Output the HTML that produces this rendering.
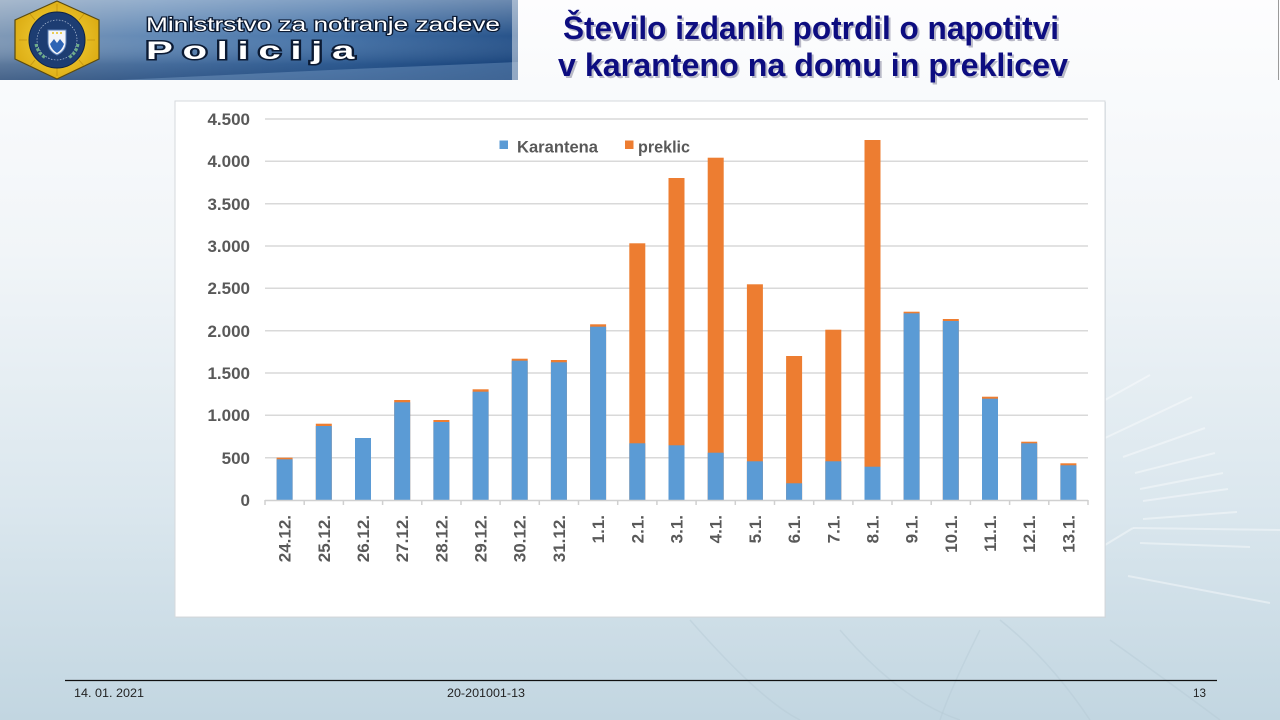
<!DOCTYPE html>
<html>
<head>
<meta charset="utf-8">
<style>
  html,body{margin:0;padding:0;width:1280px;height:720px;overflow:hidden;background:#e6eef3;}
  svg{display:block;}
</style>
</head>
<body>
<svg width="1280" height="720" viewBox="0 0 1280 720" xmlns="http://www.w3.org/2000/svg">
  <defs>
    <linearGradient id="bg" x1="0" y1="0" x2="0" y2="1">
      <stop offset="0" stop-color="#fdfdfe"/>
      <stop offset="0.35" stop-color="#f1f5f8"/>
      <stop offset="0.7" stop-color="#dbe7ee"/>
      <stop offset="1" stop-color="#c2d6e1"/>
    </linearGradient>
    <linearGradient id="banH" x1="0" y1="0" x2="1" y2="0">
      <stop offset="0" stop-color="#7893b2"/>
      <stop offset="0.3" stop-color="#5a83b2"/>
      <stop offset="0.65" stop-color="#3a6aa2"/>
      <stop offset="1" stop-color="#1c4a84"/>
    </linearGradient>
    <linearGradient id="banV" x1="0" y1="0" x2="0" y2="1">
      <stop offset="0" stop-color="#ffffff" stop-opacity="0.35"/>
      <stop offset="0.45" stop-color="#ffffff" stop-opacity="0.05"/>
      <stop offset="0.8" stop-color="#0a2a5a" stop-opacity="0.25"/>
      <stop offset="1" stop-color="#0a2a5a" stop-opacity="0.45"/>
    </linearGradient>
    <radialGradient id="hexg" cx="0.5" cy="0.5" r="0.6">
      <stop offset="0" stop-color="#f7d640"/>
      <stop offset="1" stop-color="#d9a80f"/>
    </radialGradient>
  </defs>

  <!-- slide background -->
  <rect x="0" y="0" width="1280" height="720" fill="url(#bg)"/>
  <!-- faint streaks right side -->
  <g stroke="#ffffff" stroke-opacity="0.4" stroke-width="2" fill="none">
    <line x1="1105" y1="400" x2="1150" y2="375"/>
    <line x1="1105" y1="438" x2="1192" y2="397"/>
    <line x1="1123" y1="457" x2="1205" y2="428"/>
    <line x1="1135" y1="473" x2="1215" y2="453"/>
    <line x1="1140" y1="489" x2="1223" y2="473"/>
    <line x1="1143" y1="501" x2="1228" y2="489"/>
    <line x1="1143" y1="519" x2="1237" y2="512"/>
    <line x1="1105" y1="545" x2="1133" y2="528"/>
    <line x1="1133" y1="528" x2="1280" y2="530"/>
    <line x1="1140" y1="543" x2="1250" y2="547"/>
    <line x1="1128" y1="576" x2="1270" y2="603"/>
  </g>
  <g stroke="#b5c9d5" stroke-opacity="0.45" stroke-width="1.5" fill="none">
    <path d="M690 620 Q760 700 800 720"/>
    <path d="M840 630 Q900 700 960 720"/>
    <path d="M980 630 Q950 690 940 720"/>
    <path d="M1110 640 Q1180 690 1220 720"/>
    <path d="M1000 620 Q1050 660 1090 720"/>
  </g>

  <!-- header banner -->
  <rect x="0" y="0" width="518" height="80" fill="url(#banH)"/>
  <rect x="0" y="0" width="518" height="80" fill="url(#banV)"/>
  <path d="M120 80 L330 70 L518 62 L518 80 Z" fill="#8fb2d6" fill-opacity="0.35"/>
  <rect x="512" y="0" width="6" height="80" fill="#c9d6e2" fill-opacity="0.6"/>

  <!-- logo -->
  <polygon points="57,1 99,20 99,59 57,79 15,59 15,20" fill="url(#hexg)" stroke="#5a4a10" stroke-width="1.2"/>
  <g stroke="#b8860b" stroke-width="0.8" opacity="0.7">
    <line x1="57" y1="4" x2="57" y2="12"/><line x1="57" y1="68" x2="57" y2="76"/>
    <line x1="19" y1="40" x2="27" y2="40"/><line x1="87" y1="40" x2="95" y2="40"/>
    <line x1="30" y1="14" x2="35" y2="20"/><line x1="84" y1="14" x2="79" y2="20"/>
    <line x1="30" y1="66" x2="35" y2="60"/><line x1="84" y1="66" x2="79" y2="60"/>
  </g>
  <circle cx="57" cy="40" r="28" fill="#1d3d72" stroke="#0e2347" stroke-width="1"/>
  <circle cx="57" cy="40" r="20" fill="none" stroke="#c8d4e6" stroke-width="0.6" stroke-dasharray="1.5 1.5"/>
  <path d="M48 30 L66 30 L66 42 Q66 51 57 55 Q48 51 48 42 Z" fill="#f2f4f8" stroke="#5b7fb8" stroke-width="1"/>
  <path d="M50 44 L54 39 L57 43 L60 39 L64 44 Q62 50 57 53 Q52 50 50 44 Z" fill="#2d64b4"/>
  <circle cx="53" cy="33" r="1" fill="#e8c020"/><circle cx="57" cy="33" r="1" fill="#e8c020"/><circle cx="61" cy="33" r="1" fill="#e8c020"/>
  <path d="M36 44 Q38 54 46 58" stroke="#6fae8a" stroke-width="3" fill="none" stroke-dasharray="3 1.5"/>
  <path d="M78 44 Q76 54 68 58" stroke="#6fae8a" stroke-width="3" fill="none" stroke-dasharray="3 1.5"/>

  <!-- banner text -->
  <text x="146" y="31" font-family="Liberation Sans, sans-serif" font-size="19" fill="#ffffff" stroke="#0b1a33" stroke-width="2.2" paint-order="stroke" textLength="354" lengthAdjust="spacingAndGlyphs">Ministrstvo za notranje zadeve</text>
  <text x="146" y="59" font-family="Liberation Sans, sans-serif" font-size="25" font-weight="bold" fill="#ffffff" stroke="#0b1a33" stroke-width="3" paint-order="stroke" letter-spacing="6" textLength="218" lengthAdjust="spacingAndGlyphs">Policija</text>

  <!-- right top thin line -->
  <line x1="1278.5" y1="0" x2="1278.5" y2="80" stroke="#9a9a9a" stroke-width="1"/>

  <!-- title -->
  <g font-family="Liberation Sans, sans-serif" font-size="32" font-weight="bold">
    <text x="565" y="41" fill="#6a6a88" fill-opacity="0.45" textLength="496" lengthAdjust="spacingAndGlyphs">Število izdanih potrdil o napotitvi</text>
    <text x="560" y="78" fill="#6a6a88" fill-opacity="0.45" textLength="510" lengthAdjust="spacingAndGlyphs">v karanteno na domu in preklicev</text>
    <text x="563" y="39" fill="#0d0d80" textLength="496" lengthAdjust="spacingAndGlyphs">Število izdanih potrdil o napotitvi</text>
    <text x="558" y="76" fill="#0d0d80" textLength="510" lengthAdjust="spacingAndGlyphs">v karanteno na domu in preklicev</text>
  </g>

  <!-- chart box -->
  <rect x="176" y="102" width="930" height="516" fill="#c8d3dc" fill-opacity="0.5"/>
  <rect x="175" y="101" width="930" height="516" fill="#ffffff" stroke="#d6d9dc" stroke-width="1"/>

  <!-- gridlines -->
  <g stroke="#d9d9d9" stroke-width="1.5">
    <line x1="265" y1="457.7" x2="1088" y2="457.7"/>
    <line x1="265" y1="415.3" x2="1088" y2="415.3"/>
    <line x1="265" y1="373" x2="1088" y2="373"/>
    <line x1="265" y1="330.7" x2="1088" y2="330.7"/>
    <line x1="265" y1="288.3" x2="1088" y2="288.3"/>
    <line x1="265" y1="246" x2="1088" y2="246"/>
    <line x1="265" y1="203.7" x2="1088" y2="203.7"/>
    <line x1="265" y1="161.3" x2="1088" y2="161.3"/>
    <line x1="265" y1="119" x2="1088" y2="119"/>
  </g>

  <!-- y labels -->
  <g font-family="Liberation Sans, sans-serif" font-size="17" font-weight="bold" fill="#595959" text-anchor="end">
    <text x="250" y="506">0</text>
    <text x="250" y="464">500</text>
    <text x="250" y="421">1.000</text>
    <text x="250" y="379">1.500</text>
    <text x="250" y="337">2.000</text>
    <text x="250" y="294">2.500</text>
    <text x="250" y="252">3.000</text>
    <text x="250" y="210">3.500</text>
    <text x="250" y="167">4.000</text>
    <text x="250" y="125">4.500</text>
  </g>

  <!-- bars: orange (total) then blue -->
  <g fill="#ed7d31">
    <rect x="276.6" y="457.7" width="16" height="42.3"/>
    <rect x="315.8" y="423.7" width="16" height="76.3"/>
    <rect x="355.0" y="438" width="16" height="62"/>
    <rect x="394.2" y="400" width="16" height="100"/>
    <rect x="433.4" y="420" width="16" height="80"/>
    <rect x="472.6" y="389.3" width="16" height="110.7"/>
    <rect x="511.7" y="358.7" width="16" height="141.3"/>
    <rect x="550.9" y="360" width="16" height="140"/>
    <rect x="590.1" y="324.3" width="16" height="175.7"/>
    <rect x="629.3" y="243.3" width="16" height="256.7"/>
    <rect x="668.5" y="178" width="16" height="322"/>
    <rect x="707.7" y="157.7" width="16" height="342.3"/>
    <rect x="746.9" y="284.3" width="16" height="215.7"/>
    <rect x="786.1" y="356" width="16" height="144"/>
    <rect x="825.3" y="329.7" width="16" height="170.3"/>
    <rect x="864.5" y="140" width="16" height="360"/>
    <rect x="903.6" y="311.7" width="16" height="188.3"/>
    <rect x="942.8" y="319" width="16" height="181"/>
    <rect x="982.0" y="396.7" width="16" height="103.3"/>
    <rect x="1021.2" y="441.7" width="16" height="58.3"/>
    <rect x="1060.4" y="463.3" width="16" height="36.7"/>
  </g>
  <g fill="#5b9bd5">
    <rect x="276.6" y="459.3" width="16" height="40.7"/>
    <rect x="315.8" y="426" width="16" height="74"/>
    <rect x="355.0" y="438" width="16" height="62"/>
    <rect x="394.2" y="402.3" width="16" height="97.7"/>
    <rect x="433.4" y="422" width="16" height="78"/>
    <rect x="472.6" y="391.7" width="16" height="108.3"/>
    <rect x="511.7" y="360.7" width="16" height="139.3"/>
    <rect x="550.9" y="362.3" width="16" height="137.7"/>
    <rect x="590.1" y="326.7" width="16" height="173.3"/>
    <rect x="629.3" y="443.3" width="16" height="56.7"/>
    <rect x="668.5" y="445.3" width="16" height="54.7"/>
    <rect x="707.7" y="452.7" width="16" height="47.3"/>
    <rect x="746.9" y="461.3" width="16" height="38.7"/>
    <rect x="786.1" y="483.3" width="16" height="16.7"/>
    <rect x="825.3" y="461.3" width="16" height="38.7"/>
    <rect x="864.5" y="466.7" width="16" height="33.3"/>
    <rect x="903.6" y="313.3" width="16" height="186.7"/>
    <rect x="942.8" y="321" width="16" height="179"/>
    <rect x="982.0" y="398.7" width="16" height="101.3"/>
    <rect x="1021.2" y="443.3" width="16" height="56.7"/>
    <rect x="1060.4" y="465.3" width="16" height="34.7"/>
  </g>

  <!-- x axis + ticks -->
  <g stroke="#d0d0d0" stroke-width="1.5">
    <line x1="265" y1="500.5" x2="1088" y2="500.5"/>
    <line x1="265.0" y1="500" x2="265.0" y2="505"/>
    <line x1="304.2" y1="500" x2="304.2" y2="505"/>
    <line x1="343.4" y1="500" x2="343.4" y2="505"/>
    <line x1="382.6" y1="500" x2="382.6" y2="505"/>
    <line x1="421.8" y1="500" x2="421.8" y2="505"/>
    <line x1="461.0" y1="500" x2="461.0" y2="505"/>
    <line x1="500.1" y1="500" x2="500.1" y2="505"/>
    <line x1="539.3" y1="500" x2="539.3" y2="505"/>
    <line x1="578.5" y1="500" x2="578.5" y2="505"/>
    <line x1="617.7" y1="500" x2="617.7" y2="505"/>
    <line x1="656.9" y1="500" x2="656.9" y2="505"/>
    <line x1="696.1" y1="500" x2="696.1" y2="505"/>
    <line x1="735.3" y1="500" x2="735.3" y2="505"/>
    <line x1="774.5" y1="500" x2="774.5" y2="505"/>
    <line x1="813.7" y1="500" x2="813.7" y2="505"/>
    <line x1="852.9" y1="500" x2="852.9" y2="505"/>
    <line x1="892.0" y1="500" x2="892.0" y2="505"/>
    <line x1="931.2" y1="500" x2="931.2" y2="505"/>
    <line x1="970.4" y1="500" x2="970.4" y2="505"/>
    <line x1="1009.6" y1="500" x2="1009.6" y2="505"/>
    <line x1="1048.8" y1="500" x2="1048.8" y2="505"/>
    <line x1="1088.0" y1="500" x2="1088.0" y2="505"/>
  </g>

  <!-- x labels -->
  <g font-family="Liberation Sans, sans-serif" font-size="17" font-weight="bold" fill="#595959" text-anchor="end">
    <text transform="translate(290.6,515) rotate(-90)">24.12.</text>
    <text transform="translate(329.8,515) rotate(-90)">25.12.</text>
    <text transform="translate(369.0,515) rotate(-90)">26.12.</text>
    <text transform="translate(408.2,515) rotate(-90)">27.12.</text>
    <text transform="translate(447.4,515) rotate(-90)">28.12.</text>
    <text transform="translate(486.6,515) rotate(-90)">29.12.</text>
    <text transform="translate(525.7,515) rotate(-90)">30.12.</text>
    <text transform="translate(564.9,515) rotate(-90)">31.12.</text>
    <text transform="translate(604.1,515) rotate(-90)">1.1.</text>
    <text transform="translate(643.3,515) rotate(-90)">2.1.</text>
    <text transform="translate(682.5,515) rotate(-90)">3.1.</text>
    <text transform="translate(721.7,515) rotate(-90)">4.1.</text>
    <text transform="translate(760.9,515) rotate(-90)">5.1.</text>
    <text transform="translate(800.1,515) rotate(-90)">6.1.</text>
    <text transform="translate(839.3,515) rotate(-90)">7.1.</text>
    <text transform="translate(878.5,515) rotate(-90)">8.1.</text>
    <text transform="translate(917.6,515) rotate(-90)">9.1.</text>
    <text transform="translate(956.8,515) rotate(-90)">10.1.</text>
    <text transform="translate(996.0,515) rotate(-90)">11.1.</text>
    <text transform="translate(1035.2,515) rotate(-90)">12.1.</text>
    <text transform="translate(1074.4,515) rotate(-90)">13.1.</text>
  </g>

  <!-- legend -->
  <rect x="499.5" y="140.5" width="8.5" height="8.5" fill="#5b9bd5"/>
  <text x="517" y="152.5" font-family="Liberation Sans, sans-serif" font-size="17" font-weight="bold" fill="#595959" textLength="81" lengthAdjust="spacingAndGlyphs">Karantena</text>
  <rect x="625" y="140.5" width="8.5" height="8.5" fill="#ed7d31"/>
  <text x="638" y="152.5" font-family="Liberation Sans, sans-serif" font-size="17" font-weight="bold" fill="#595959" textLength="52" lengthAdjust="spacingAndGlyphs">preklic</text>

  <!-- footer -->
  <line x1="65" y1="680.5" x2="1217" y2="680.5" stroke="#111111" stroke-width="1.3"/>
  <g font-family="Liberation Sans, sans-serif" font-size="12" fill="#222222">
    <text x="74" y="697" textLength="70" lengthAdjust="spacingAndGlyphs">14. 01. 2021</text>
    <text x="447" y="697" textLength="78" lengthAdjust="spacingAndGlyphs">20-201001-13</text>
    <text x="1193" y="697" textLength="13" lengthAdjust="spacingAndGlyphs">13</text>
  </g>
</svg>
</body>
</html>
